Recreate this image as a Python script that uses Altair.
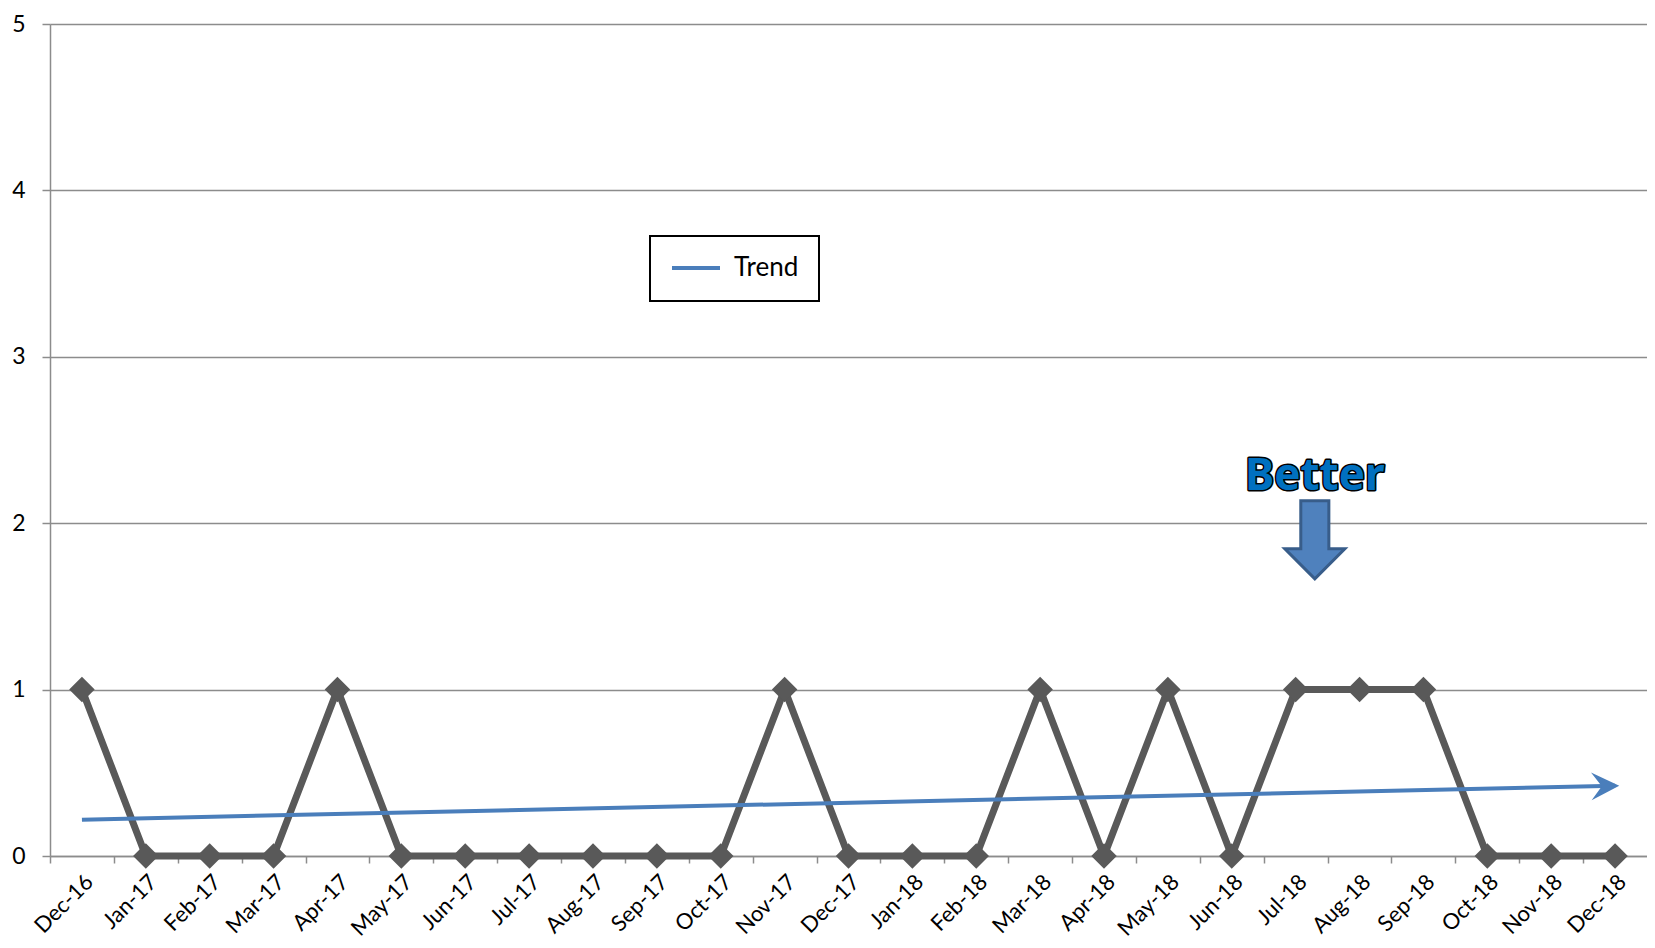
import altair as alt
import pandas as pd

months = ["Dec-16", "Jan-17", "Feb-17", "Mar-17", "Apr-17", "May-17", "Jun-17",
          "Jul-17", "Aug-17", "Sep-17", "Oct-17", "Nov-17", "Dec-17", "Jan-18",
          "Feb-18", "Mar-18", "Apr-18", "May-18", "Jun-18", "Jul-18", "Aug-18",
          "Sep-18", "Oct-18", "Nov-18", "Dec-18"]
values = [1, 0, 0, 0, 1, 0, 0, 0, 0, 0, 0, 1, 0, 0, 0, 1, 0, 1, 0, 1, 1, 1, 0, 0, 0]
y_ticks = [0, 1, 2, 3, 4, 5]

# annotation ("Better" + down arrow) in data units
ann_x = [19.3]
text_y = [2.2]
arrow_y = [1.9]

df = pd.DataFrame({"idx": list(range(len(months))), "month": months, "value": values})
ann_text = pd.DataFrame({"idx": ann_x, "value": text_y, "label": ["Better"]})
ann_arrow = pd.DataFrame({"idx": ann_x, "value": arrow_y})

W, H = 1597, 832
band = W / len(months)
label_expr = "[" + ",".join("'" + m + "'" for m in months) + "][datum.value]"

GRID = "#8C8C8C"
FONT = "Lato"

x_enc = alt.X(
    "idx:Q",
    scale=alt.Scale(domain=[-0.5, len(months) - 0.5], nice=False, zero=False),
    axis=alt.Axis(
        values=list(range(len(months))), labelExpr=label_expr, title=None,
        grid=False, tickOffset=-band / 2, labelOffset=band / 2,
        tickSize=7, tickColor=GRID, tickWidth=1.5, domainColor=GRID, domainWidth=1.5,
        labelAngle=315, labelAlign="right", labelBaseline="top", labelPadding=8,
        labelFontSize=22, labelFont=FONT, labelColor="black", labelOverlap=False,
    ),
)
y_enc = alt.Y(
    "value:Q",
    scale=alt.Scale(domain=[0, 5], nice=False),
    axis=alt.Axis(
        values=y_ticks, format="d", title=None, grid=True, gridColor=GRID, gridWidth=1.5,
        tickSize=8, tickColor=GRID, tickWidth=1.5, domainColor=GRID, domainWidth=1.5,
        labelPadding=17, labelFontSize=23, labelFont=FONT, labelColor="black",
    ),
)

base = alt.Chart(df)

line = base.mark_line(color="#595959", strokeWidth=7, strokeJoin="round").encode(x=x_enc, y=y_enc)
pts = base.mark_point(shape="diamond", filled=True, size=650, color="#595959", opacity=1).encode(
    x="idx:Q", y="value:Q")

trend = (
    base.transform_regression("idx", "value", method="linear", extent=[0, len(months) - 1])
    .transform_calculate(series="'Trend'")
    .mark_line(strokeWidth=4, strokeCap="butt")
    .encode(
        x="idx:Q", y="value:Q",
        color=alt.Color(
            "series:N", scale=alt.Scale(range=["#4A7EBB"]),
            legend=alt.Legend(
                title=None, orient="none", legendX=600, legendY=212,
                symbolType="stroke", symbolSize=2304, symbolStrokeWidth=4,
                labelFontSize=26, labelFont=FONT, labelColor="black", labelOffset=12,
                padding=20, clipHeight=24, strokeColor="black", fillColor="white",
            ),
        ),
    )
)

arrowhead = (
    base.transform_regression("idx", "value", method="linear", extent=[0, len(months) - 1])
    .transform_filter("datum.idx > 23.5")
    .mark_point(shape="M0.3,0 L-1.7,-1 L-0.95,0 L-1.7,1 Z", filled=True, size=780,
                color="#4A7EBB", opacity=1, angle=358.7)
    .encode(x="idx:Q", y="value:Q")
)

txt_outline = alt.Chart(ann_text).mark_text(
    font="Noto Sans", fontWeight="bold", fontSize=44, baseline="alphabetic", align="center",
    fill="black", stroke="black", strokeWidth=3, strokeJoin="round",
).encode(x="idx:Q", y="value:Q", text="label:N")
txt_fill = alt.Chart(ann_text).mark_text(
    font="Noto Sans", fontWeight="bold", fontSize=44, baseline="alphabetic", align="center",
    fill="#0070C0",
).encode(x="idx:Q", y="value:Q", text="label:N")

down_arrow = alt.Chart(ann_arrow).mark_point(
    shape="M-0.36,-1 L0.36,-1 L0.36,0.23 L0.77,0.23 L0,1 L-0.77,0.23 L-0.36,0.23 Z",
    filled=True, size=6084, fill="#4F81BD", stroke="#385D8A", strokeWidth=3, opacity=1,
).encode(x="idx:Q", y="value:Q")

chart = (
    alt.layer(line, pts, trend, arrowhead, txt_outline, txt_fill, down_arrow)
    .properties(
        width=W, height=H,
        autosize=alt.AutoSizeParams(type="none"),
        padding={"left": 42, "top": 16, "right": 0, "bottom": 84},
        background="white",
    )
    .configure_view(strokeWidth=0)
    .configure_legend(strokeWidth=2)
)

chart.save("out.html", embed_options={"renderer": "svg", "actions": False})
